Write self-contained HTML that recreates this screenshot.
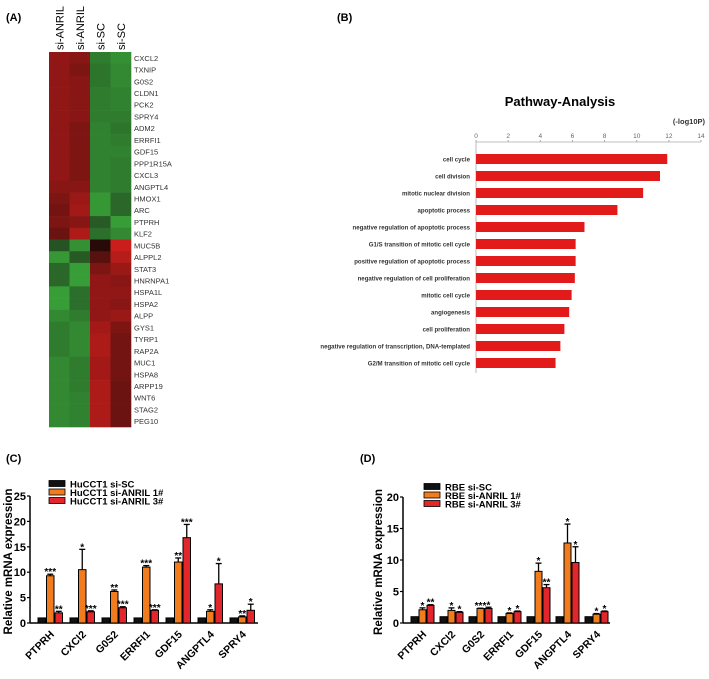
<!DOCTYPE html>
<html><head><meta charset="utf-8">
<style>
html,body{margin:0;padding:0;background:#fff;}
svg{display:block;font-family:"Liberation Sans",Arial,sans-serif;}
</style></head>
<body>
<svg id="fig" width="709" height="679" viewBox="0 0 709 679">
<text x="6" y="21" font-size="11" font-weight="bold">(A)</text>
<text x="337" y="21" font-size="11" font-weight="bold">(B)</text>
<text x="6" y="462" font-size="11" font-weight="bold">(C)</text>
<text x="360" y="462" font-size="11" font-weight="bold">(D)</text>
<g id="heat"></g>
<g id="path"></g>
<g id="cc"></g>
<g id="cd"></g>
</svg>
<script>
const NS="http://www.w3.org/2000/svg";
function mk(p,t,a,txt){const e=document.createElementNS(NS,t);for(const k in a)e.setAttribute(k,a[k]);if(txt!==undefined)e.textContent=txt;p.appendChild(e);return e;}

// ---------- Heatmap data ----------
const heatCols=["si-ANRIL","si-ANRIL","si-SC","si-SC"];
const heatGenes=["CXCL2","TXNIP","G0S2","CLDN1","PCK2","SPRY4","ADM2","ERRFI1","GDF15","PPP1R15A","CXCL3","ANGPTL4","HMOX1","ARC","PTPRH","KLF2","MUC5B","ALPPL2","STAT3","HNRNPA1","HSPA1L","HSPA2","ALPP","GYS1","TYRP1","RAP2A","MUC1","HSPA8","ARPP19","WNT6","STAG2","PEG10"];
const heatVals=[[.6,.55,-.6,-.75],[.6,.5,-.55,-.7],[.6,.55,-.55,-.7],[.6,.55,-.6,-.65],[.6,.55,-.6,-.65],[.6,.55,-.6,-.6],[.6,.5,-.65,-.55],[.6,.5,-.65,-.6],[.6,.5,-.65,-.65],[.6,.5,-.65,-.6],[.6,.5,-.65,-.6],[.55,.55,-.65,-.6],[.5,.65,-.8,-.45],[.45,.7,-.8,-.45],[.5,.55,-.35,-.85],[.4,.75,-.5,-.7],[-.3,-.75,.05,.9],[-.8,-.35,.3,.8],[-.45,-.85,.5,.65],[-.45,-.85,.6,.55],[-.85,-.5,.6,.6],[-.85,-.5,.6,.55],[-.7,-.6,.6,.65],[-.6,-.7,.7,.5],[-.6,-.7,.75,.45],[-.6,-.7,.75,.45],[-.7,-.6,.7,.45],[-.7,-.6,.7,.45],[-.7,-.6,.75,.4],[-.7,-.65,.75,.4],[-.7,-.65,.75,.4],[-.7,-.65,.75,.4]];
function heatColor(v){if(v>=0)return`rgb(${Math.round(30+190*v)},${Math.round(10+22*v)},${Math.round(8+22*v)})`;const a=-v;return`rgb(${Math.round(28+32*a)},${Math.round(42+136*a)},${Math.round(25+35*a)})`;}
(function(){const g=document.getElementById('heat');const x0=49,x1=131,y0=52,y1=427;const cw=(x1-x0)/heatCols.length,rh=(y1-y0)/heatGenes.length;
heatGenes.forEach((gn,i)=>{heatVals[i].forEach((v,j)=>{const r=mk(g,'rect',{x:x0+j*cw,y:y0+i*rh,width:cw+0.3,height:rh+0.3,fill:heatColor(v)});

});
const t=mk(g,'text',{x:134,y:y0+i*rh+rh/2+3,'font-size':7.5,fill:'#333'},gn);

});
heatCols.forEach((c,j)=>{const cx=x0+j*cw+cw/2+4;const t=mk(g,'text',{x:0,y:0,'font-size':11,transform:`translate(${cx},50) rotate(-90)`},c);

});})();

// ---------- Pathway ----------
const pathTerms=["cell cycle","cell division","mitotic nuclear division","apoptotic process","negative regulation of apoptotic process","G1/S transition of mitotic cell cycle","positive regulation of apoptotic process","negative regulation of cell proliferation","mitotic cell cycle","angiogenesis","cell proliferation","negative regulation of transcription, DNA-templated","G2/M transition of mitotic cell cycle"];
const pathVals=[11.9,11.45,10.4,8.8,6.75,6.2,6.2,6.15,5.95,5.8,5.5,5.25,4.95];
const pathTicks=[0,2,4,6,8,10,12,14];
(function(){const g=document.getElementById('path');const X=v=>476+v*(701-476)/14;const Y=i=>159+i*17;
mk(g,'text',{x:560,y:106,'font-size':13,'font-weight':'bold','text-anchor':'middle'},'Pathway-Analysis');
mk(g,'text',{x:705,y:124,'font-size':7.5,'font-weight':'bold','text-anchor':'end',fill:'#333'},'(-log10P)');
mk(g,'line',{x1:X(0),y1:142,x2:X(14),y2:142,stroke:'#aaa','stroke-width':0.8});
mk(g,'line',{x1:X(0),y1:142,x2:X(0),y2:373,stroke:'#aaa','stroke-width':0.8});
pathTicks.forEach(t=>{mk(g,'line',{x1:X(t),y1:140,x2:X(t),y2:142,stroke:'#aaa'});const e=mk(g,'text',{x:X(t),y:138,'font-size':6.5,'text-anchor':'middle',fill:'#666'},t);

});
pathTerms.forEach((tm,i)=>{const r=mk(g,'rect',{x:X(0),y:Y(i)-5,width:X(pathVals[i])-X(0),height:10,fill:'#e31a1a'});


const t=mk(g,'text',{x:470,y:Y(i)+2.5,'font-size':6.1,'font-weight':'bold','text-anchor':'end',fill:'#333'},tm);

});})();

// ---------- Bar charts ----------
const genes=["PTPRH","CXCl2","G0S2","ERRFI1","GDF15","ANGPTL4","SPRY4"];
const cSC=[1,1,1,1,1,1,1];
const cA1=[9.3,10.5,6.2,11,12,2.3,1.2];
const cA1err=[0.3,4,0.3,0.3,0.8,0.3,0.2];
const cA3=[2.0,2.2,3.0,2.5,16.8,7.7,2.5];
const cA3err=[0.3,0.2,0.2,0.1,2.6,4,1.2];
const cA1star=["***","*","**","***","**","*","**"];
const cA3star=["**","***","***","***","***","*","*"];
const cTicks=[0,5,10,15,20,25];
const dSC=[1,1,1,1,1,1,1];
const dA1=[2.1,2.0,2.3,1.5,8.2,12.7,1.4];
const dA1err=[0.3,0.4,0.05,0.1,1.3,3,0.1];
const dA3=[2.8,1.7,2.3,1.8,5.6,9.6,1.8];
const dA3err=[0.1,0.1,0.2,0.1,0.5,2.5,0.1];
const dA1star=["*","*","***","*","*","*","*"];
const dA3star=["**","*","*","*","**","*","*"];
const dTicks=[0,5,10,15,20];

function barChart(gid,o){const g=document.getElementById(gid);
const Y=v=>o.y0-(v/o.max)*(o.y0-o.yTop);
mk(g,'line',{x1:o.ax,y1:o.yTop,x2:o.ax,y2:o.y0,stroke:'#000','stroke-width':1.5});
mk(g,'line',{x1:o.ax,y1:o.y0,x2:o.axEnd,y2:o.y0,stroke:'#000','stroke-width':1.5});
o.ticks.forEach(t=>{mk(g,'line',{x1:o.ax-3,y1:Y(t),x2:o.ax,y2:Y(t),stroke:'#000','stroke-width':1.2});
const e=mk(g,'text',{x:o.ax-4,y:Y(t)+4,'font-size':11,'font-weight':'bold','text-anchor':'end'},t);

});
const yl=mk(g,'text',{x:0,y:0,'font-size':11.5,'font-weight':'bold','text-anchor':'middle',transform:`translate(${o.ylx},${(o.yTop+o.y0)/2+2}) rotate(-90)`},'Relative mRNA expression');


const cols=['#111','#f07c1e','#e3262c'];
const series=[[o.sc,null,null],[o.a1,o.a1e,o.a1s],[o.a3,o.a3e,o.a3s]];
genes.forEach((gn,i)=>{const gx=o.gx0+i*o.step;
series.forEach((s,k)=>{const x=gx+k*o.bw;const v=s[0][i];
const r=mk(g,'rect',{x:x,y:Y(v),width:o.bw-1,height:o.y0-Y(v),fill:cols[k],stroke:'#000','stroke-width':1});


if(s[1]){const cx=x+(o.bw-1)/2,te=Y(v+s[1][i]);
mk(g,'line',{x1:cx,y1:Y(v),x2:cx,y2:te,stroke:'#000','stroke-width':1.3});
mk(g,'line',{x1:cx-3,y1:te,x2:cx+3,y2:te,stroke:'#000','stroke-width':1.3});
const st=mk(g,'text',{x:cx,y:te+1,'font-size':10,'font-weight':'bold','text-anchor':'middle'},s[2][i]);

}});
const lx=gx+o.bw*1.5+4;const t=mk(g,'text',{x:0,y:0,'font-size':10.5,'font-weight':'bold','text-anchor':'end',transform:`translate(${lx},${o.y0+12}) rotate(-45)`},gn);

});
o.legend.forEach((l,k)=>{const y=o.ly+k*8.5;
const r=mk(g,'rect',{x:o.lx,y:y-3.5,width:16,height:6,fill:cols[k],stroke:'#000','stroke-width':0.8});


const t=mk(g,'text',{x:o.lx+21,y:y+3.5,'font-size':9.5,'font-weight':'bold'},l);

});}

barChart('cc',{y0:623,yTop:496,max:25,ax:30,axEnd:258,gx0:38,step:32,bw:8.5,ticks:cTicks,ylx:12,sc:cSC,a1:cA1,a1e:cA1err,a1s:cA1star,a3:cA3,a3e:cA3err,a3s:cA3star,lx:49,ly:484,legend:["HuCCT1 si-SC","HuCCT1 si-ANRIL 1#","HuCCT1 si-ANRIL 3#"]});
barChart('cd',{y0:623,yTop:497,max:20,ax:403,axEnd:610,gx0:411,step:29,bw:8,ticks:dTicks,ylx:382,sc:dSC,a1:dA1,a1e:dA1err,a1s:dA1star,a3:dA3,a3e:dA3err,a3s:dA3star,lx:424,ly:487,legend:["RBE si-SC","RBE si-ANRIL 1#","RBE si-ANRIL 3#"]});
</script>
</body></html>
